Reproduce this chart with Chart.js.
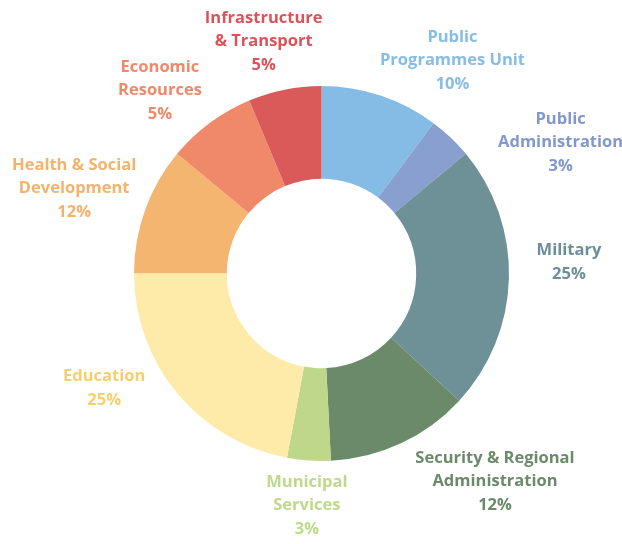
<!DOCTYPE html>
<html>
<head>
<meta charset="utf-8">
<script src="https://cdn.jsdelivr.net/npm/chart.js@4"></script>
<style>
html,body{margin:0;padding:0;background:#fff;}
#wrap{width:622px;height:544px;}
</style>
</head>
<body>
<div id="wrap"><canvas id="c" width="622" height="544"></canvas></div>
<script>
// ---- data ----
const categories = [
  'Public Programmes Unit', 'Public Administration', 'Military',
  'Security & Regional Administration', 'Municipal Services', 'Education',
  'Health & Social Development', 'Economic Resources', 'Infrastructure & Transport'
];
const shares = [10.2, 3.8, 22.9, 12.35, 3.75, 22.1, 11.0, 7.7, 6.3];
const percentLabels = ['10%', '3%', '25%', '12%', '3%', '25%', '12%', '5%', '5%'];
const labelLines = [
  ['Public', 'Programmes Unit'],
  ['Public', 'Administration'],
  ['Military'],
  ['Security & Regional', 'Administration'],
  ['Municipal', 'Services'],
  ['Education'],
  ['Health & Social', 'Development'],
  ['Economic', 'Resources'],
  ['Infrastructure', '& Transport']
];

// ---- styles ----
const sliceColors = ['#85BCE5', '#889FCF', '#6E9198', '#6B8A6A', '#BFD78A', '#FEEBAA', '#F4B571', '#F0886A', '#DA5959'];
const textColors  = ['#86BDE6', '#8197CD', '#6C8F97', '#6B8A6A', '#BDD98A', '#F5D06A', '#F4B26C', '#F0886A', '#D9545A'];
const labelOffsets = [[72,-35],[110,5],[60,-16],[94,38],[-2,45],[-73,-5],[-71,-21],[-50,-32],[-21,-48]];

const outsideLabels = {
  id: 'outsideLabels',
  afterDatasetsDraw(chart) {
    const ctx = chart.ctx;
    const meta = chart.getDatasetMeta(0);
    ctx.save();
    ctx.font = '700 16.5px "Open Sans", sans-serif';
    ctx.textAlign = 'center';
    ctx.textBaseline = 'middle';
    const lh = 23.5;
    meta.data.forEach((arc, i) => {
      const p = arc.getProps(['x','y','startAngle','endAngle','outerRadius'], true);
      const mid = (p.startAngle + p.endAngle) / 2;
      const ax = p.x + Math.cos(mid) * p.outerRadius + labelOffsets[i][0];
      const ay = p.y + Math.sin(mid) * p.outerRadius + labelOffsets[i][1];
      const lines = labelLines[i].concat([percentLabels[i]]);
      const y0 = ay - (lines.length - 1) * lh / 2;
      ctx.fillStyle = textColors[i];
      lines.forEach((t, k) => ctx.fillText(t, ax, y0 + k * lh));
    });
    ctx.restore();
  }
};

new Chart(document.getElementById('c'), {
  type: 'doughnut',
  data: {
    labels: categories,
    datasets: [{
      data: shares,
      backgroundColor: sliceColors,
      borderWidth: 0
    }]
  },
  options: {
    responsive: false,
    animation: false,
    cutout: '50.5%',
    layout: { padding: { top: 86, bottom: 83, left: 21, right: 0 } },
    plugins: {
      legend: { display: false },
      tooltip: { enabled: false }
    }
  },
  plugins: [outsideLabels]
});
</script>
</body>
</html>
